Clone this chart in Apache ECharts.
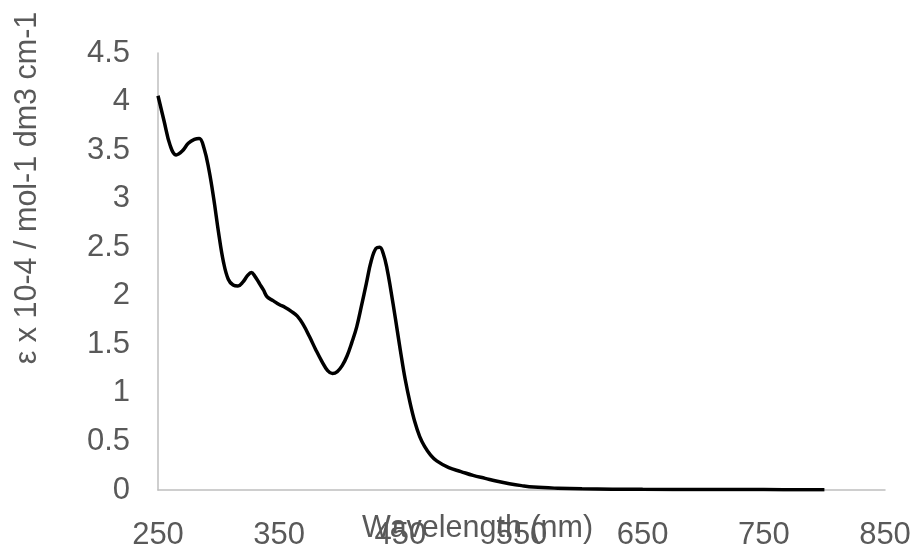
<!DOCTYPE html>
<html>
<head>
<meta charset="utf-8">
<script src="https://cdn.jsdelivr.net/npm/echarts@6/dist/echarts.min.js"></script>
<style>html,body{margin:0;padding:0;background:#fff}#c{width:915px;height:554px}</style>
</head>
<body>
<div id="c"></div>
<script>
const wavelength = [250,255,260,265,270,275,280,284,288,292,296,300,304,308,312,316,320,324,327,330,334,337,340,345,350,355,360,365,370,375,380,385,390,394,398,402,406,410,414,418,422,426,430,433,436,439,442,446,450,454,458,462,466,470,475,480,490,500,510,520,530,540,550,560,580,600,650,700,750,800];
const epsilon = [4.06,3.80,3.55,3.45,3.49,3.57,3.61,3.62,3.52,3.30,3.00,2.65,2.35,2.17,2.11,2.10,2.14,2.21,2.24,2.20,2.12,2.06,1.99,1.95,1.91,1.88,1.84,1.79,1.70,1.58,1.45,1.33,1.23,1.20,1.22,1.28,1.38,1.52,1.68,1.90,2.13,2.36,2.49,2.50,2.43,2.28,2.07,1.76,1.44,1.14,0.90,0.70,0.55,0.45,0.36,0.30,0.23,0.19,0.15,0.12,0.09,0.065,0.045,0.03,0.018,0.012,0.007,0.005,0.004,0.003];
const xTitle = 'Wavelength (nm)';
const yTitle = 'ε x 10-4 / mol-1 dm3 cm-1';

const font = '"Liberation Sans", Arial, sans-serif';
const chart = echarts.init(document.getElementById('c'), null, {renderer: 'canvas'});
chart.setOption({
  animation: false,
  backgroundColor: '#ffffff',
  grid: {left: 158, right: 30, top: 53, bottom: 64, containLabel: false},
  xAxis: {
    type: 'value', min: 250, max: 850, interval: 100,
    axisLine: {show: true, lineStyle: {color: '#bfbfbf', width: 1.5}},
    axisTick: {show: false},
    splitLine: {show: false},
    axisLabel: {color: '#595959', fontSize: 31, fontFamily: font, margin: 30}
  },
  yAxis: {
    type: 'value', min: 0, max: 4.5, interval: 0.5,
    axisLine: {show: true, lineStyle: {color: '#bfbfbf', width: 1.5}},
    axisTick: {show: false},
    splitLine: {show: false},
    axisLabel: {color: '#595959', fontSize: 31, fontFamily: font, margin: 28}
  },
  graphic: [
    {type: 'text', left: 362, top: 513, style: {text: xTitle, fill: '#595959', font: '30.5px ' + font}},
    {type: 'text', x: 28, y: 188, rotation: Math.PI / 2, style: {text: yTitle, fill: '#595959', font: '30.5px ' + font, align: 'center', verticalAlign: 'middle'}}
  ],
  series: [{
    type: 'line',
    data: wavelength.map((w, i) => [w, epsilon[i]]),
    smooth: 0.4,
    showSymbol: false,
    lineStyle: {color: '#000000', width: 3.5}
  }]
});
</script>
</body>
</html>
